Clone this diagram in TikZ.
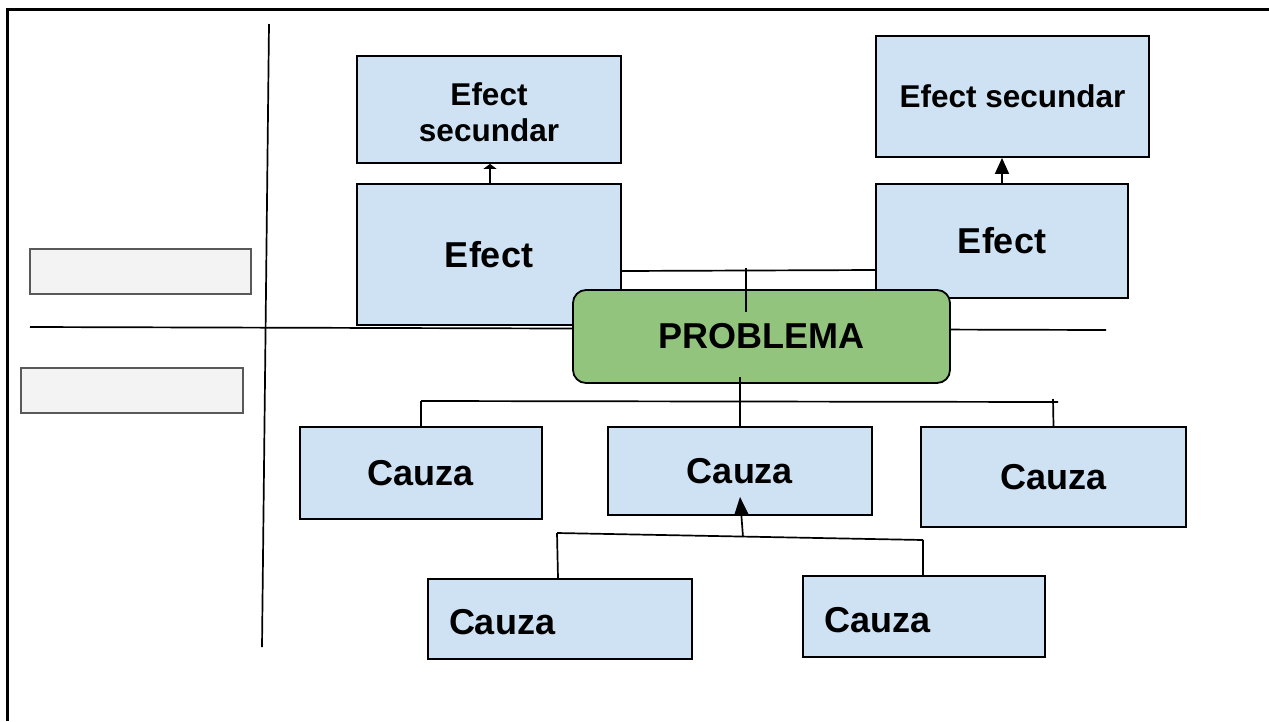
\documentclass[tikz,border=0pt]{standalone}
\usepackage{fontspec}
\setmainfont{Liberation Sans}
\usepackage{tikz}
\usetikzlibrary{arrows.meta}
\definecolor{boxblue}{HTML}{CFE2F3}
\definecolor{probgreen}{HTML}{93C47D}
\definecolor{blankgray}{HTML}{F3F3F3}
\newcommand{\bigtxt}{\fontsize{36}{40}\selectfont\bfseries}
\newcommand{\smalltxt}{\fontsize{31.5}{36}\selectfont\bfseries}
\tikzstyle{box}=[rectangle, draw=black, fill=boxblue, line width=1.8pt, inner sep=0pt, font=\bigtxt]
\tikzstyle{problem}=[rectangle, rounded corners=13pt, draw=black, fill=probgreen, line width=1.8pt, inner sep=0pt, font=\bigtxt]
\tikzstyle{blank}=[rectangle, draw=black!65, fill=blankgray, line width=1.3pt]
\tikzstyle{line}=[draw=black, line width=1.7pt]

\begin{document}
\begin{tikzpicture}[x=1pt, y=-1pt]
      \useasboundingbox (0,0) rectangle (1269,721);
      % frame
      \draw[line width=3.5pt] (1269,9.5) -- (7.5,9.5) -- (7.5,721);
      % axes
      \coordinate (vtop) at (269,24);
      \coordinate (vbot) at (262,647);
      \coordinate (hleft) at (30,327);
      \coordinate (hright) at (1106,330);
      \draw[line] (vtop) -- (vbot);
      \draw[line] (hleft) -- (hright);
      % empty labels
      \node[blank, minimum width=221pt, minimum height=45pt] (lab1) at (140.5,271.5) {};
      \node[blank, minimum width=222pt, minimum height=45pt] (lab2) at (132,390.5) {};
      % effects
      \node[box, font=\smalltxt, align=center, text height=65pt, minimum width=264pt, minimum height=107pt] (secl) at (489,109.5) {Efect\\secundar};
      \node[box, font=\smalltxt, minimum width=273pt, minimum height=121pt] (secr) at (1012.5,96.5) {Efect secundar};
      \node[box, minimum width=264pt, minimum height=141pt] (efl) at (489,254.5) {Efect};
      \node[box, minimum width=252pt, minimum height=114pt] (efr) at (1002,241) {Efect};
      % problem
      \node[problem, minimum width=377pt, minimum height=93pt] (prob) at (761.5,336.5) {PROBLEMA};
      % causes
      \node[box, minimum width=242pt, minimum height=92pt] (cl) at (421,473) {Cauza};
      \node[box, minimum width=264pt, minimum height=88pt] (cm) at (740,471) {Cauza};
      \node[box, minimum width=265pt, minimum height=100pt] (cr) at (1053.5,477) {Cauza};
      \node[box, align=left, text width=222pt, text height=32pt, inner xsep=21pt, minimum height=80pt] (bl) at (560,619) {Cauza};
      \node[box, align=left, text width=200pt, text height=32pt, inner xsep=21pt, minimum height=81pt] (br) at (924,616.5) {Cauza};
      % effect links
      \draw[line, -{Triangle[width=13pt, length=5pt]}] ([xshift=1pt]efl.north) -- ([xshift=1pt]secl.south);
      \draw[line, -{Triangle[width=14pt, length=16pt]}] (efr.north) -- (efr.north |- secr.south);
      \draw[line] ([yshift=-16.5pt]efl.east) -- ([yshift=-29pt]efr.west);
      \coordinate (jtop) at (746,268);
      \coordinate (jbot) at (746,312);
      \draw[line] (jtop) -- (jbot);
      % cause links
      \coordinate (pdown) at (740,377);
      \coordinate (busl) at (421,401);
      \coordinate (busr) at (1058,402);
      \coordinate (rtick) at (1053,399);
      \draw[line] (pdown) -- (cm.north);
      \draw[line] (busl) -- (busr);
      \draw[line] (busl) -- (cl.north);
      \draw[line] (rtick) -- (cr.north);
      \coordinate (lowl) at (557,533);
      \coordinate (lowr) at (923,540);
      \coordinate (lowm) at (743,537);
      \draw[line] (lowl) -- (lowr);
      \draw[line] (lowl) -- ([xshift=-2pt]bl.north);
      \draw[line] (lowr) -- ([xshift=-1pt]br.north);
      \draw[line, -{Triangle[width=14pt, length=18pt]}] (lowm) -- ([yshift=19pt]cm.south);
\end{tikzpicture}
\end{document}
